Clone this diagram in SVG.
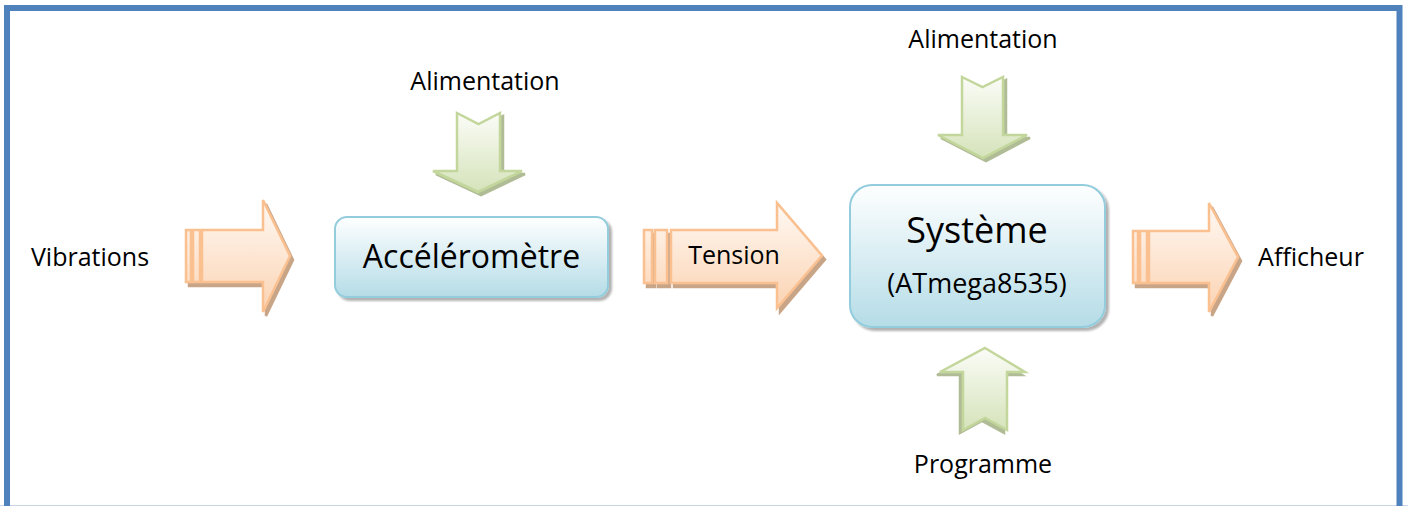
<svg xmlns="http://www.w3.org/2000/svg" width="1408" height="506" viewBox="0 0 1408 506">
<defs>
<linearGradient id="gOr" x1="0" y1="0" x2="0" y2="1">
<stop offset="0" stop-color="#FFF9F4"/><stop offset="1" stop-color="#FBD3B2"/>
</linearGradient>
<linearGradient id="gGr" x1="0" y1="0" x2="0" y2="1">
<stop offset="0" stop-color="#FBFCF7"/><stop offset="1" stop-color="#D5E3BA"/>
</linearGradient>
<linearGradient id="gBl" x1="0" y1="0" x2="0" y2="1">
<stop offset="0" stop-color="#FEFFFF"/><stop offset="1" stop-color="#B5DCE7"/>
</linearGradient>
<filter id="shOr" x="-10%" y="-10%" width="130%" height="130%">
<feDropShadow dx="3" dy="4" stdDeviation="0.7" flood-color="#B8865E" flood-opacity="0.75"/>
</filter>
<filter id="shGr" x="-10%" y="-10%" width="130%" height="130%">
<feDropShadow dx="3" dy="3" stdDeviation="0.7" flood-color="#8FA068" flood-opacity="0.7"/>
</filter>
<filter id="shGrL" x="-20%" y="-10%" width="140%" height="130%">
<feDropShadow dx="-3" dy="3" stdDeviation="0.7" flood-color="#8FA068" flood-opacity="0.7"/>
</filter>
<filter id="shBl" x="-10%" y="-10%" width="130%" height="130%">
<feDropShadow dx="3" dy="3" stdDeviation="1" flood-color="#000" flood-opacity="0.3"/>
</filter>
</defs>
<style>
.or{fill:url(#gOr);stroke:#FAC090;stroke-width:2.5;stroke-linejoin:miter;filter:url(#shOr)}
.gr{fill:url(#gGr);stroke:#C3D69B;stroke-width:2.5;filter:url(#shGr)}
.grl{fill:url(#gGr);stroke:#C3D69B;stroke-width:2.5;filter:url(#shGrL)}
.box{fill:url(#gBl);stroke:#93CDDD;stroke-width:2;filter:url(#shBl)}
.t{font-family:"Open Sans","Liberation Sans",sans-serif;fill:#000}
.lb{font-size:25px}
</style>
<rect width="1408" height="506" fill="#fff"/>
<g id="frame">
<line x1="0" y1="505.5" x2="1408" y2="505.5" stroke="#C9D6E6" stroke-width="1"/>
<path d="M7,506 V8 H1399.5 V506" fill="none" stroke="#4F81BD" stroke-width="6"/>
</g>
<g id="connectors">
<g id="arrow-vibrations">
<path class="or" d="M186,230 H191 V282 H186 Z M193,230 H200 V282 H193 Z M202,230 H263 V200 L290,256 L263,312 V282 H202 Z"/>
</g>
<g id="arrow-tension">
<path class="or" d="M644,230 H652 V283 H644 Z M655,230 H667 V283 H655 Z M671,230 H777 V203 L822,255.5 L777,308 V283 H671 Z"/>
</g>
<g id="arrow-afficheur">
<path class="or" d="M1133,231 H1138 V283 H1133 Z M1140,231 H1147 V283 H1140 Z M1149,231 H1209 V203 L1238,257 L1209,312 V283 H1149 Z"/>
</g>
<g id="arrow-alim1">
<path class="gr" d="M457,113 L478.5,124 L500,113 V171 H522 L478,192 L433,171 H457 Z"/>
</g>
<g id="arrow-alim2">
<path class="gr" d="M962,77 L982.5,87 L1003,77 V135 H1027 L983,158 L938,135 H962 Z"/>
</g>
<g id="arrow-programme">
<path class="grl" d="M985,348 L1025,372 H1007 V430 L985,418 L963,430 V372 H940 Z"/>
</g>
</g>
<g id="node-accelerometre">
<rect class="box" x="335" y="217" width="273" height="80" rx="12"/>
<text class="t" x="471.5" y="268" font-size="32" text-anchor="middle">Accéléromètre</text>
</g>
<g id="node-systeme">
<rect class="box" x="850" y="185" width="255" height="142" rx="22"/>
<text class="t" x="977" y="243" font-size="36" text-anchor="middle">Système</text>
<text class="t" x="977" y="293" font-size="27" text-anchor="middle">(ATmega8535)</text>
</g>
<g id="labels">
<text class="t lb" x="90" y="266" text-anchor="middle">Vibrations</text>
<text class="t lb" x="734" y="264" text-anchor="middle">Tension</text>
<text class="t lb" x="1311" y="266" text-anchor="middle">Afficheur</text>
<text class="t lb" x="485" y="90" text-anchor="middle">Alimentation</text>
<text class="t lb" x="983" y="48" text-anchor="middle">Alimentation</text>
<text class="t lb" x="983" y="473" text-anchor="middle">Programme</text>
</g>
</svg>
